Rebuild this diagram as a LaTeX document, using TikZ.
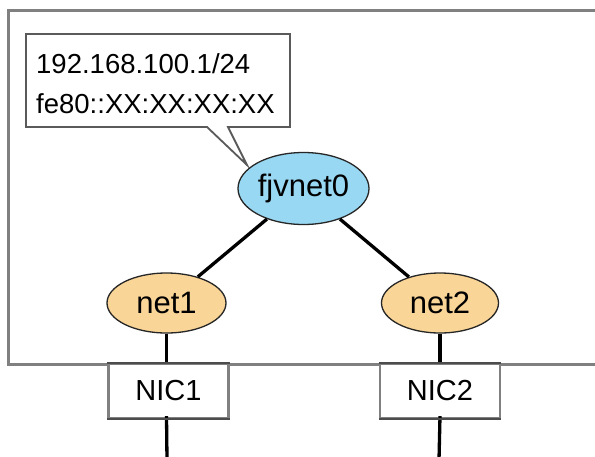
\documentclass[tikz,border=0pt]{standalone}
\usepackage{fontspec}
\setmainfont{Liberation Sans}
\usetikzlibrary{shapes.geometric}
\definecolor{vblue}{RGB}{153,216,242}
\definecolor{vorange}{RGB}{250,213,152}
\definecolor{frame}{RGB}{128,128,128}
\definecolor{boxline}{RGB}{90,90,90}
\tikzset{
  netell/.style={ellipse, draw=black!85, line width=1.3pt, inner sep=0pt, font=\fontsize{31}{36}\selectfont},
  nicbox/.style={rectangle, draw=frame, line width=2.2pt, inner sep=0pt, minimum width=120pt, minimum height=54pt, font=\fontsize{29}{34}\selectfont},
  wire/.style={line width=3.3pt, black},
  hostframe/.style={draw=frame, line width=3pt},
  calloutline/.style={draw=boxline, line width=1.8pt, fill=white}
}
\begin{document}
\begin{tikzpicture}[x=1pt,y=-1pt]
\useasboundingbox (0,0) rectangle (595,456);
\fill[white] (0,0) rectangle (595,456);
% host frame (open to the right)
\draw[hostframe] (605,10) -- (8.5,10) -- (8.5,364.5) -- (605,364.5);
% callout
\draw[calloutline] (26,34) -- (290,34) -- (290,127) -- (228,127) -- (247,165) -- (207,127) -- (26,127) -- cycle;
\node[anchor=base west, inner sep=0pt, font=\fontsize{27.5}{40}\selectfont, align=left] (addr1) at (36,73) {192.168.100.1/24};
\node[anchor=base west, inner sep=0pt, font=\fontsize{27.5}{40}\selectfont, align=left] (addr2) at (36,113) {fe80::XX:XX:XX:XX};
% nodes
\node[netell, fill=vblue, minimum width=131pt, minimum height=72pt] (fj) at (303.5,188.5) {fjvnet0};
\node[netell, fill=vorange, minimum width=119pt, minimum height=60pt] (n1) at (166.5,303) {net1};
\node[netell, fill=vorange, minimum width=117pt, minimum height=60pt] (n2) at (440,303) {net2};
\node[nicbox, fill=white] (c1) at (168.5,391) {NIC1};
\node[nicbox, fill=white] (c2) at (440,391) {NIC2};
\coordinate (e1) at (167,460);
\coordinate (e2) at (439,460);
% connectors
\draw[wire] (fj) -- (n1);
\draw[wire] (fj) -- (n2);
\draw[wire] (n1.south) -- (n1.south |- c1.north);
\draw[wire] (n2.south) -- (n2.south |- c2.north);
\draw[wire] ([yshift=3pt]n1.south |- c1.south) -- (e1);
\draw[wire] ([yshift=3pt]n2.south |- c2.south) -- (e2);
% NIC box top and bottom edges
\draw[line width=2.4pt, black!70] (c1.north west) -- (c1.north east);
\draw[line width=2.4pt, black!70] (c2.north west) -- (c2.north east);
\draw[line width=2pt, black!70] (c1.south west) -- (c1.south east);
\draw[line width=2pt, black!70] (c2.south west) -- (c2.south east);
\end{tikzpicture}
\end{document}
